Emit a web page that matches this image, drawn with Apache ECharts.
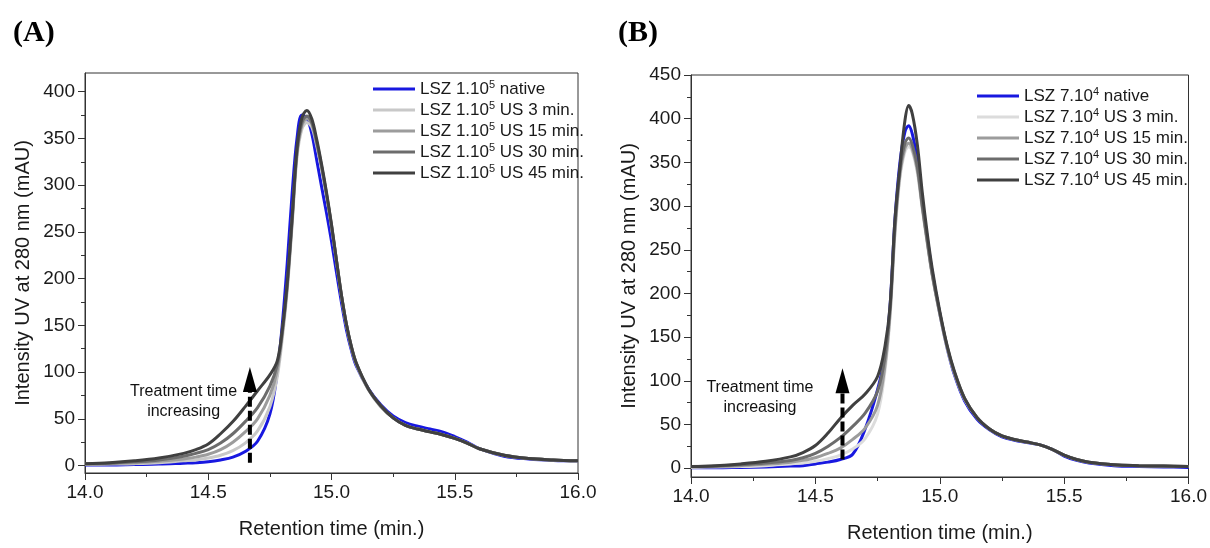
<!DOCTYPE html>
<html>
<head>
<meta charset="utf-8">
<title>LSZ SEC chromatograms</title>
<script src="https://cdn.jsdelivr.net/npm/echarts@6/dist/echarts.min.js"></script>
<style>
  html, body { margin: 0; padding: 0; background: #fff; }
  #chart { width: 1210px; height: 548px; }
</style>
</head>
<body>
<div id="chart"></div>
<script>
// retention time (min.) sampled for each panel
const timeA = [14.0, 14.1, 14.2, 14.3, 14.4, 14.45, 14.5, 14.55, 14.6, 14.65, 14.7, 14.75, 14.78, 14.8, 14.82, 14.84, 14.86, 14.88, 14.9, 14.92, 14.94, 14.96, 14.98, 15.0, 15.02, 15.04, 15.06, 15.08, 15.1, 15.15, 15.2, 15.25, 15.3, 15.35, 15.4, 15.45, 15.5, 15.55, 15.6, 15.7, 15.8, 15.9, 16.0];
const timeB = [14.0, 14.1, 14.2, 14.3, 14.4, 14.45, 14.5, 14.55, 14.6, 14.65, 14.7, 14.75, 14.78, 14.8, 14.82, 14.84, 14.86, 14.875, 14.89, 14.91, 14.93, 14.95, 14.97, 15.0, 15.03, 15.06, 15.1, 15.15, 15.2, 15.25, 15.3, 15.35, 15.4, 15.45, 15.5, 15.55, 15.6, 15.7, 15.8, 15.9, 16.0];

// panel A : LSZ 1.10^5 (mAU)
const nativeA = [0.5, 0.5, 1, 1.5, 2.5, 3, 4, 6, 9, 15, 26, 55, 100, 150, 215, 290, 350, 375, 372, 355, 327, 298, 270, 240, 207, 175, 146, 124, 107, 82, 65, 53, 46, 42, 39, 36, 31, 25, 18, 10, 7, 5.5, 5];
const us3A = [1, 1.5, 2, 3, 5, 6, 8, 11, 16, 24, 37, 63, 95, 135, 186, 256, 330, 360, 367, 362, 342, 317, 288, 255, 219, 182, 151, 127, 109, 81, 63, 51, 43, 39, 36, 33, 29, 24, 18, 11, 7.5, 6, 5];
const us15A = [1.5, 2, 3, 4.5, 7, 9, 12, 17, 25, 36, 50, 75, 102, 140, 190, 260, 334, 364, 371, 366, 344, 319, 289, 256, 219, 182, 151, 127, 109, 81, 63, 51, 43, 39, 36, 33, 29, 24, 18, 11, 7.5, 6, 5];
const us30A = [2, 2.5, 4, 6, 10, 13, 17, 24, 34, 47, 62, 85, 108, 142, 192, 262, 336, 367, 374, 367, 346, 320, 290, 257, 220, 183, 152, 128, 110, 82, 64, 51, 43, 39, 36, 33, 29, 24, 18, 11, 7.5, 6, 5];
const us45A = [2, 3, 5, 8, 13, 17, 23, 34, 47, 63, 80, 97, 112, 145, 195, 265, 340, 372, 380, 371, 349, 322, 292, 258, 220, 183, 152, 128, 110, 82, 64, 51, 43, 39, 36, 33, 29, 24, 18, 11, 7.5, 6, 5];

// panel B : LSZ 7.10^4 (mAU)
const nativeB = [0.5, 0.5, 1, 1.5, 2.5, 3, 5, 7, 10, 16, 45, 90, 130, 185, 285, 350, 385, 392, 382, 352, 305, 263, 224, 177, 137, 106, 77, 56, 44, 36, 32, 29.5, 27, 22, 14, 9, 6, 3, 2, 1.5, 1];
const us3B = [1, 1.5, 2, 3, 5, 6, 8, 11, 15, 22, 34, 62, 112, 172, 268, 332, 362, 368, 362, 338, 296, 257, 220, 176, 137, 108, 79, 58, 45, 37, 33, 30, 27, 22, 15, 10, 7, 4, 3, 2.5, 2];
const us15B = [1.5, 2, 3, 4.5, 7, 9, 12, 17, 23, 33, 46, 72, 118, 176, 272, 336, 366, 372, 365, 341, 298, 258, 221, 177, 138, 108, 79, 58, 45, 37, 33, 30, 27, 22, 15, 10, 7, 4, 3, 2.5, 2];
const us30B = [2, 2.5, 4, 6, 9, 12, 17, 25, 35, 48, 63, 88, 128, 182, 278, 342, 372, 378, 370, 345, 300, 260, 222, 178, 139, 109, 80, 58, 45, 37, 33, 30, 27, 22, 15, 10, 7, 4, 3, 2.5, 2];
const us45B = [2, 3, 5, 8, 13, 18, 26, 40, 57, 72, 85, 105, 140, 185, 285, 345, 398, 415, 405, 370, 315, 268, 228, 180, 140, 110, 80, 58, 45, 37, 33, 30, 27, 22, 15, 10, 7, 4, 3, 2.5, 2];

const namesA = ["LSZ 1.10⁵ native", "LSZ 1.10⁵ US 3 min.", "LSZ 1.10⁵ US 15 min.", "LSZ 1.10⁵ US 30 min.", "LSZ 1.10⁵ US 45 min."];
const namesB = ["LSZ 7.10⁴ native", "LSZ 7.10⁴ US 3 min.", "LSZ 7.10⁴ US 15 min.", "LSZ 7.10⁴ US 30 min.", "LSZ 7.10⁴ US 45 min."];

// axis ticks
const yTicksA = [0, 50, 100, 150, 200, 250, 300, 350, 400];
const yMinorA = [25, 75, 125, 175, 225, 275, 325, 375];
const yTicksB = [0, 50, 100, 150, 200, 250, 300, 350, 400, 450];
const yMinorB = [25, 75, 125, 175, 225, 275, 325, 375, 425];

// "treatment time increasing" arrows: [time, dashed from, dashed to, head]
const arrowA = [14.669, 3, 79, 92];
const arrowB = [14.609, 10, 86, 100];
const noteA = [14.4, 68];
const noteB = [14.277, 81];

const colorsA = ["#1818e0", "#c8c8c8", "#9c9c9c", "#6c6c6c", "#404040"];
const colorsB = ["#1818e0", "#dcdcdc", "#9c9c9c", "#6c6c6c", "#404040"];

const font = "Liberation Sans, Arial, sans-serif";
const textColor = "#1a1a1a";

function curve(name, times, values, color, xi, yi) {
    return {
        name: name,
        type: "line",
        xAxisIndex: xi,
        yAxisIndex: yi,
        data: times.map((t, i) => [t, values[i]]),
        symbol: "none",
        showSymbol: false,
        smooth: 0.35,
        lineStyle: { color: color, width: 3 },
        itemStyle: { color: color },
    };
}

function arrow(a, xi, yi) {
    return [
        {
            type: "line",
            xAxisIndex: xi,
            yAxisIndex: yi,
            data: [[a[0], a[1]], [a[0], a[2]]],
            symbol: "none",
            lineStyle: { color: "#000", width: 4, type: [10, 4] },
            z: 5,
        },
        {
            type: "scatter",
            xAxisIndex: xi,
            yAxisIndex: yi,
            data: [[a[0], a[3]]],
            symbol: "triangle",
            symbolSize: [14, 25],
            itemStyle: { color: "#000", opacity: 1 },
            z: 5,
        },
    ];
}

function note(p, xi, yi) {
    return {
        type: "scatter",
        xAxisIndex: xi,
        yAxisIndex: yi,
        data: [p],
        symbolSize: 1,
        itemStyle: { color: "rgba(0,0,0,0)", opacity: 1 },
        label: {
            show: true,
            position: "inside",
            formatter: "Treatment time\nincreasing",
            fontFamily: font,
            fontSize: 16,
            lineHeight: 20,
            color: "#111",
        },
    };
}

function xAxis(gridIndex) {
    return {
        type: "value",
        gridIndex: gridIndex,
        min: 14,
        max: 16,
        interval: 0.5,
        name: "Retention time (min.)",
        nameLocation: "middle",
        nameGap: 46,
        nameTextStyle: { fontFamily: font, fontSize: 20, color: textColor },
        axisLine: { onZero: false, lineStyle: { color: "#333", width: 1 } },
        axisTick: { length: 7, lineStyle: { color: "#333" } },
        minorTick: { show: true, splitNumber: 2, length: 4, lineStyle: { color: "#333" } },
        splitLine: { show: false },
        axisLabel: {
            margin: 10,
            fontFamily: font,
            fontSize: 19,
            color: textColor,
            formatter: (v) => v.toFixed(1),
        },
    };
}

function yAxis(gridIndex, min, max, ticks) {
    return {
        type: "value",
        gridIndex: gridIndex,
        position: "left",
        min: min,
        max: max,
        name: "Intensity UV at 280 nm (mAU)",
        nameLocation: "middle",
        nameGap: 52,
        nameTextStyle: { fontFamily: font, fontSize: 20, color: textColor },
        axisLine: { show: true, onZero: false, lineStyle: { color: "#333", width: 1 } },
        axisTick: { show: true, length: 7, customValues: ticks, lineStyle: { color: "#333" } },
        splitLine: { show: false },
        axisLabel: { margin: 10, fontFamily: font, fontSize: 19, color: textColor, customValues: ticks },
    };
}

function yMinorAxis(gridIndex, min, max, ticks) {
    return {
        type: "value",
        gridIndex: gridIndex,
        position: "left",
        min: min,
        max: max,
        axisLine: { show: false, onZero: false },
        axisTick: { show: true, length: 4, customValues: ticks, lineStyle: { color: "#333" } },
        axisLabel: { show: false },
        splitLine: { show: false },
    };
}

function legendFormatter(name) {
    return name.replace(/([⁴⁵])/, (m) => "{sup|" + (m === "⁴" ? "4" : "5") + "}");
}

function legend(names, left, top) {
    return {
        data: names,
        orient: "vertical",
        left: left,
        top: top,
        padding: 0,
        icon: "rect",
        itemWidth: 42,
        itemHeight: 3,
        itemGap: 1,
        formatter: legendFormatter,
        textStyle: {
            fontFamily: font,
            fontSize: 17,
            lineHeight: 20,
            color: textColor,
            rich: {
                sup: { fontFamily: font, fontSize: 11, lineHeight: 11, verticalAlign: "top", color: textColor },
            },
        },
    };
}

const series = [];
[nativeA, us3A, us15A, us30A, us45A].forEach((vals, i) => {
    series.push(curve(namesA[i], timeA, vals, colorsA[i], 0, 0));
});
[nativeB, us3B, us15B, us30B, us45B].forEach((vals, i) => {
    series.push(curve(namesB[i], timeB, vals, colorsB[i], 1, 2));
});
series.push(...arrow(arrowA, 0, 0), ...arrow(arrowB, 1, 2));
series.push(note(noteA, 0, 0), note(noteB, 1, 2));

const option = {
    animation: false,
    backgroundColor: "#fff",
    title: [
        { text: "(A)", left: 8, top: 13, textStyle: { fontFamily: "Liberation Serif, Times New Roman, serif", fontWeight: "bold", fontSize: 30, color: "#000" } },
        { text: "(B)", left: 613, top: 13, textStyle: { fontFamily: "Liberation Serif, Times New Roman, serif", fontWeight: "bold", fontSize: 30, color: "#000" } },
    ],
    legend: [legend(namesA, 373, 79), legend(namesB, 977, 86)],
    grid: [
        { left: 85, top: 73, width: 493, height: 400, show: true, borderColor: "#333", borderWidth: 1, containLabel: false },
        { left: 691, top: 75, width: 499, height: 408, show: true, borderColor: "#333", borderWidth: 1, containLabel: false },
    ],
    xAxis: [xAxis(0), xAxis(1)],
    yAxis: [
        yAxis(0, -8, 420, yTicksA),
        yMinorAxis(0, -8, 420, yMinorA),
        yAxis(1, -10, 450, yTicksB),
        yMinorAxis(1, -10, 450, yMinorB),
    ],
    series: series,
};

const chart = echarts.init(document.getElementById("chart"));
chart.setOption(option);
</script>
</body>
</html>
